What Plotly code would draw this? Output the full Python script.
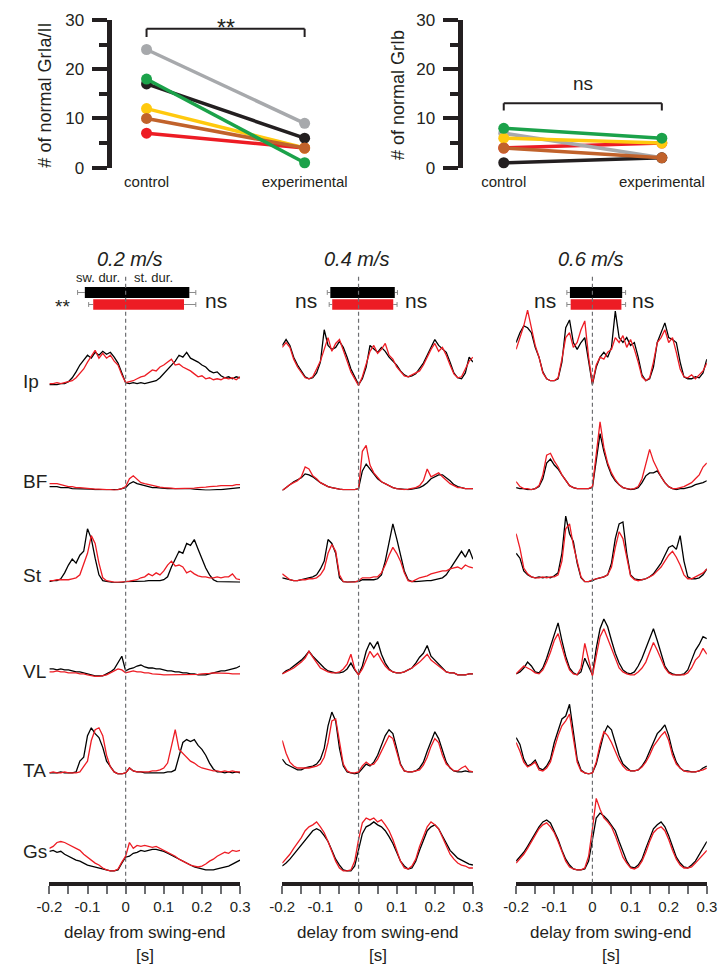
import plotly.graph_objects as go

# ---------------- DATA ----------------
GROUPS = ["control", "experimental"]
SUBJECT_COLORS = ["#a7a9ac", "#231f20", "#1ba24a", "#ffc90e", "#c1622b", "#ed1c24"]  # gray, black, green, yellow, brown, red
GRIA_CONTROL = [24, 17, 18, 12, 10, 7]
GRIA_EXPERIMENTAL = [9, 6, 1, 4, 4, 4]
GRIB_CONTROL = [7, 1, 8, 6, 4, 4]
GRIB_EXPERIMENTAL = [2, 2, 6, 5, 2, 5]
GRIA_SIG = "**"
GRIB_SIG = "ns"

SPEEDS = ["0.2 m/s", "0.4 m/s", "0.6 m/s"]
MUSCLES = ["Ip", "BF", "St", "VL", "TA", "Gs"]
TIME_S = [round(-0.2 + 0.01 * i, 2) for i in range(51)]
X_TICK_VALS = [-0.2, -0.15, -0.1, -0.05, 0, 0.05, 0.1, 0.15, 0.2, 0.25, 0.3]
X_TICK_TEXT = ["-0.2", "", "-0.1", "", "0", "", "0.1", "", "0.2", "", "0.3"]

# swing (negative) / stance (positive) duration [s] with SD
SW_DUR_CTRL = [-0.107, -0.074, -0.059]
SW_SD_CTRL = [0.019, 0.008, 0.008]
ST_DUR_CTRL = [0.167, 0.095, 0.078]
ST_SD_CTRL = [0.017, 0.007, 0.009]
SW_DUR_EXP = [-0.085, -0.069, -0.057]
SW_SD_EXP = [0.012, 0.008, 0.010]
ST_DUR_EXP = [0.153, 0.091, 0.076]
ST_SD_EXP = [0.031, 0.010, 0.011]
SW_SIG = ["**", "ns", "ns"]
ST_SIG = ["ns", "ns", "ns"]

# EMG envelopes (a.u.), t = -0.20 ... 0.30 s in 0.01 s steps
IP_02_CTRL = [2,2,2,3,3,5,9,15,22,27, 32,29,35,32,36,33,35,30,24,14, 4,3,4,3,4,3,4,5,6,9,
              13,18,22,26,32,30,35,29,27,25, 22,20,16,14,15,11,9,10,8,10, 9]
IP_02_EXP = [3,3,4,3,4,5,6,9,13,18, 25,31,37,29,34,29,32,26,22,12, 4,5,6,8,10,11,14,17,16,20,
             22,25,28,22,23,20,18,16,13,10, 11,8,9,7,8,7,9,8,9,7, 10]
BF_02_CTRL = [4,4,4,3,3,3,2,2,2,2, 1.5,1.5,1,1,1,0.5,0.5,0.5,1,2, 3,7,9,7,6,5,4,3,3,2.5,
              2.5,2,2,2,2,2,2.5,2,1.5,1, 0.5,0.5,0.5,1,1,1,1.5,2,2.5,3, 3]
BF_02_EXP = [7,7,7,6,5,4,4,3,3,2.5, 2,2,1.5,1.5,1,1,1,0.5,1,2, 4,12,15,11,8,7,6,5,4,3.5,
             3,3,2.5,2,2,2,2,2,2.5,3, 3,3.5,4,4,4.5,5,5,5,5,6, 6]
ST_02_CTRL = [1,2,2,4,10,18,24,20,28,32, 55,45,25,8,2,1,0.5,0,0,0, 1,1,1,1,1.5,1.5,2,2,2,2,
              3,6,16,24,32,30,40,38,44,34, 25,15,8,3,1,1,0.5,0.5,0.5,0.5, 0.5]
ST_02_EXP = [2,2,3,3,3,3,4,5,8,20, 30,48,40,20,5,2,1,0.5,0.5,0.5, 1,1.5,2,3,5,6,9,7,10,8,
             12,18,22,17,18,16,10,12,9,7, 6,6,5,5,6,5,6,6,9,4, 3]
VL_02_CTRL = [9,9,8,9,8,8,7,6,6,5, 4,3,2,2,2,4,6,9,16,22, 7,9,10,12,13,11,10,10,9,9,
              8,7,7,6,6,5,5,4,4,3, 3,3,4,5,6,7,7,8,9,10, 12]
VL_02_EXP = [6,6,7,6,6,5,5,5,4,4, 3,2,1.5,1.5,2,3,5,7,9,8, 5,6,7,6,6,5,5,4,4,3.5,
             3,3,3,3,3,3,3,3,3,3.5, 4,4,4.5,5,5,5,5,4.5,4,4, 4]
TA_02_CTRL = [2,2,2,3,2,2,2,3,14,18, 40,48,42,38,28,14,8,3,1,1, 2,7,4,3,3,2,2,2,2,2,
              2,3,3,5,18,33,36,34,36,30, 26,20,12,6,3,3,2,3,2,3, 2]
TA_02_EXP = [2,3,2,2,3,2,2,2,3,8, 14,35,46,48,40,20,8,3,1,1, 2,7,4,3,3,3,3,4,4,5,
             7,12,30,46,26,22,18,14,12,9, 7,6,5,4,4,3,4,3,4,3, 3]
GS_02_CTRL = [21,22,20,21,18,16,14,12,11,9, 7,6,5,4,3,1.5,1,1,2,9, 15,16,19,20,22,21,22,23,23,22,
              21,19,17,15,13,11,9,7,5,4, 3,2,2,2,3,4,5,6,8,10, 12]
GS_02_EXP = [24,26,30,31,30,28,26,24,22,18, 15,12,9,7,4,2,1,1,3,10, 16,30,24,27,26,27,26,25,26,24,
             22,20,18,16,13,11,9,7,6,5, 6,8,11,13,16,18,20,19,22,21, 22]

IP_04_CTRL = [42,48,42,30,22,16,10,8,9,14, 25,58,42,38,40,46,40,30,18,10, 2,8,20,42,38,35,40,36,30,26,
              22,16,12,10,11,13,18,24,32,40, 48,42,38,35,25,14,9,8,14,30, 25]
IP_04_EXP = [40,45,40,28,20,14,9,8,10,18, 26,38,50,36,44,48,36,26,15,8, 1,10,22,36,42,34,38,44,32,28,
             20,15,11,10,12,14,16,22,30,38, 44,36,40,32,22,13,9,10,18,26, 30]
BF_04_CTRL = [0,3,6,9,11,13,17,16,14,11, 8,6,4,3,2,1.5,1,1,1,1, 2,20,27,22,16,12,9,7,5,3,
              2,1.5,1,1,1.5,2,3,5,8,12, 14,16,16,13,10,6,4,3,2,2, 2]
BF_04_EXP = [0,3,6,8,10,14,24,22,15,12, 8,6,4,3,2,1.5,1,1,1,1, 2,40,46,26,18,13,9,7,5,3,
             2,1.5,1,1.5,2,3,5,10,22,14, 16,18,14,10,7,5,3,3,2,2, 2]
ST_04_CTRL = [5,4,3,2,2,3,4,5,6,8, 14,22,44,40,30,5,1,0.5,0.5,0.5, 1,3,3,3,3,4,8,22,40,60,
              45,30,12,3,1,1,1.5,2,2,2, 3,4,5,8,14,20,25,32,26,34, 24]
ST_04_EXP = [9,6,3,2,2,3,3,4,4,5, 8,14,30,39,32,8,1,0.5,0.5,0.5, 2,5,5,5,6,6,10,18,28,36,
             30,22,10,2,1,3,5,6,7,9, 10,11,12,12,14,15,16,14,18,16, 15]
VL_04_CTRL = [4,7,9,12,15,18,22,27,22,18, 13,10,7,6,5,5,6,9,15,8, 3,12,27,36,30,37,24,15,9,6,
              5,5,6,8,10,15,21,25,33,22, 18,13,9,6,5,5,3,3,3,4, 4]
VL_04_EXP = [4,6,8,10,13,16,20,27,21,15, 10,8,6,5,5,6,9,14,24,9, 3,9,18,27,21,25,18,12,8,6,
             5,5,6,8,10,13,16,20,24,18, 15,12,9,6,5,5,3,3,3,4, 4]
TA_04_CTRL = [16,11,9,7,5,5,7,8,9,11, 16,27,50,64,55,27,9,3,2,1, 2,7,11,9,13,20,31,40,46,42,
              27,11,4,3,3,4,7,13,24,35, 44,37,24,13,7,4,3,3,4,3, 3]
TA_04_EXP = [35,22,13,9,7,7,7,7,8,9, 11,18,33,55,57,35,11,4,2,2, 3,9,13,10,11,16,24,33,40,37,
             24,10,4,3,3,4,5,10,18,29, 37,33,20,11,7,4,4,7,9,4, 3]
GS_04_CTRL = [6,9,13,18,22,28,33,37,42,44, 42,37,31,22,13,7,2,1,1,6, 22,39,46,48,51,48,46,42,36,29,
              20,11,6,3,4,11,22,33,42,46, 48,44,37,29,22,18,14,12,10,8, 7]
GS_04_EXP = [9,13,18,24,29,35,42,46,48,51, 46,40,31,20,11,4,1,1,2,11, 33,50,55,53,55,51,53,48,42,33,
             22,11,4,3,6,13,26,37,46,51, 48,44,35,26,18,13,9,7,6,4, 4]

IP_06_CTRL = [45,55,62,60,55,40,30,15,8,6, 6,8,25,60,68,45,38,45,50,25, 2,20,30,35,30,40,77,50,45,50,
              42,45,30,12,6,8,20,45,55,65, 50,48,45,25,10,8,8,10,9,14, 28]
IP_06_EXP = [38,50,62,78,60,42,30,14,8,6, 6,9,28,50,55,40,45,58,67,30, 3,22,30,28,35,38,50,45,52,40,
             48,38,25,10,6,9,25,45,50,58, 45,50,35,18,10,9,12,8,12,16, 24]
BF_06_CTRL = [3,2,2,1,1,2,4,12,28,32, 26,22,16,10,5,3,2,2,2,2, 3,30,58,40,26,16,10,6,3,2,
              1,1.5,3,8,15,18,18,20,14,8, 4,2,1,2,2,3,4,6,7,8, 10]
BF_06_EXP = [9,4,2,2,1,2,5,16,36,38, 30,24,16,10,5,3,2,2,2,2, 4,40,70,44,28,18,11,6,3,2,
             1.5,2,4,12,28,42,30,22,14,8, 4,2,2,3,4,6,8,12,16,24, 28]
ST_06_CTRL = [30,25,12,8,6,5,6,5,6,5, 7,10,30,68,50,42,20,5,1,1, 2,4,5,6,8,20,45,60,62,30,
              8,4,3,3,4,6,9,14,20,28, 36,38,34,48,22,6,4,4,5,8, 14]
ST_06_EXP = [50,35,15,9,6,5,5,6,5,6, 6,8,22,55,60,38,22,6,1,1, 3,4,5,6,8,16,36,52,45,24,
             7,3,2,3,4,6,8,12,16,22, 28,32,26,18,8,4,4,6,8,10, 14]
VL_06_CTRL = [4,6,10,16,12,6,5,10,20,32, 45,56,38,22,10,5,3,6,20,12, 3,30,50,60,52,38,25,15,8,5,
              4,6,12,20,30,42,50,38,24,12, 6,4,3,3,4,8,18,28,34,42, 40]
VL_06_EXP = [4,8,12,10,8,5,4,8,16,26, 38,45,32,18,8,4,3,10,35,18, 2,22,42,50,40,28,18,10,6,4,
             3,3,6,10,16,26,36,28,18,10, 5,3,3,3,3,5,10,18,22,30, 24]
TA_06_CTRL = [38,31,16,9,11,15,7,5,9,16, 33,46,57,60,72,44,16,5,2,1, 2,11,27,42,50,46,33,20,11,7,
              4,4,5,9,15,24,33,42,46,51, 40,24,13,7,4,4,3,3,4,7, 9]
TA_06_EXP = [33,24,13,8,10,13,5,4,7,13, 27,40,50,55,62,38,13,4,2,1, 2,13,31,44,40,33,24,15,9,5,
             4,4,5,8,13,20,29,35,40,44, 35,20,11,7,4,3,3,3,4,5, 7]
GS_06_CTRL = [11,15,20,26,33,40,46,51,53,50, 42,33,22,13,7,3,2,2,3,11, 33,55,60,57,53,48,42,31,20,11,
              5,4,7,13,24,35,44,48,51,46, 37,26,15,9,5,4,7,11,18,24, 31]
GS_06_EXP = [9,13,18,24,31,37,44,48,50,46, 40,31,20,11,5,3,2,2,4,16, 44,75,64,55,51,46,37,26,15,9,
             4,3,5,11,20,31,40,44,46,42, 33,22,13,7,4,4,5,9,13,18, 22]

CTRL_TRACES = [
    [IP_02_CTRL, BF_02_CTRL, ST_02_CTRL, VL_02_CTRL, TA_02_CTRL, GS_02_CTRL],
    [IP_04_CTRL, BF_04_CTRL, ST_04_CTRL, VL_04_CTRL, TA_04_CTRL, GS_04_CTRL],
    [IP_06_CTRL, BF_06_CTRL, ST_06_CTRL, VL_06_CTRL, TA_06_CTRL, GS_06_CTRL],
]
EXP_TRACES = [
    [IP_02_EXP, BF_02_EXP, ST_02_EXP, VL_02_EXP, TA_02_EXP, GS_02_EXP],
    [IP_04_EXP, BF_04_EXP, ST_04_EXP, VL_04_EXP, TA_04_EXP, GS_04_EXP],
    [IP_06_EXP, BF_06_EXP, ST_06_EXP, VL_06_EXP, TA_06_EXP, GS_06_EXP],
]

# ---------------- LAYOUT / STYLE ----------------
# the page body adds an 8 px margin, so the figure is drawn 8 px smaller / shifted
W, H = 719, 969
FONT = "Liberation Sans, Arial, Helvetica, sans-serif"
INK = "#231f20"
BLACK = "#000000"
RED = "#ed1c24"


def fx(px):
    return px / W


def fy(px):
    return 1 - px / H


def lin_range(dom, v0, p0, v1, p1):
    s = (v1 - v0) / (p1 - p0)
    return [v0 + (dom[0] - p0) * s, v0 + (dom[1] - p0) * s]


def note(x, y, text, size, xanchor="center", yanchor="middle", angle=0):
    return dict(xref="paper", yref="paper", x=fx(x), y=fy(y), text=text, showarrow=False,
                xanchor=xanchor, yanchor=yanchor, textangle=angle,
                font=dict(size=size, family=FONT, color=INK))


fig = go.Figure()
layout = dict(
    width=W, height=H, margin=dict(l=0, r=0, t=0, b=0, pad=0), autosize=False,
    paper_bgcolor="white", plot_bgcolor="rgba(0,0,0,0)",
    showlegend=False, font=dict(family=FONT, color=INK),
)
shapes, annotations = [], []

# ---- top paired panels ----
TOP_Y_PX = (153.7, 3.0)  # pixel of value 0, value 30
top_panels = [
    dict(dom=(93.5, 338), ctrl_px=129.7, exp_px=293, ctrl=GRIA_CONTROL, exp=GRIA_EXPERIMENTAL,
         title="# of normal GrIa/II", title_x=25, sig=GRIA_SIG, br_px=(12, 20.3), sig_px=11, sig_size=23),
    dict(dom=(456.2, 711), ctrl_px=498.7, exp_px=662, ctrl=GRIB_CONTROL, exp=GRIB_EXPERIMENTAL,
         title="# of normal GrIb", title_x=390, sig=GRIB_SIG, br_px=(88, 95.3), sig_px=68, sig_size=19),
]
DRAW_ORDER = [5, 0, 3, 1, 4, 2]
for k, p in enumerate(top_panels, start=1):
    xa, ya = ("xaxis", "yaxis") if k == 1 else (f"xaxis{k}", f"yaxis{k}")
    layout[xa] = dict(
        domain=[fx(p["dom"][0]), fx(p["dom"][1])],
        range=lin_range(p["dom"], 0, p["ctrl_px"], 1, p["exp_px"]),
        anchor=f"y{k}", showline=False, showgrid=False, zeroline=False, ticks="", ticklen=0,
        tickvals=[0, 1], ticktext=GROUPS, tickfont=dict(size=15, family=FONT, color=INK),
        ticklabelstandoff=3,
    )
    layout[ya] = dict(
        domain=[fy(TOP_Y_PX[0]), fy(TOP_Y_PX[1])], range=[0, 30], anchor=f"x{k}",
        showline=True, linewidth=5, linecolor=INK, showgrid=False, zeroline=False,
        ticks="outside", ticklen=15, tickwidth=4, tickcolor=INK, ticklabeloverflow="allow",
        tickvals=[0, 10, 20, 30], tickfont=dict(size=17, family=FONT, color=INK), ticklabelstandoff=4,
        minor=dict(tickvals=[5, 15, 25], ticks="outside", ticklen=8, tickwidth=4, tickcolor=INK),
    )
    for i in DRAW_ORDER:
        fig.add_trace(go.Scatter(
            x=[0, 1], y=[p["ctrl"][i], p["exp"][i]], mode="lines+markers",
            line=dict(color=SUBJECT_COLORS[i], width=3.5),
            marker=dict(color=SUBJECT_COLORS[i], size=11),
            xaxis=f"x{k}", yaxis=f"y{k}", hoverinfo="skip", cliponaxis=False,
        ))
    b_top, b_end = p["br_px"]
    for (xa0, ya0, xa1, ya1) in [(0, b_end, 0, b_top), (0, b_top, 1, b_top), (1, b_top, 1, b_end)]:
        shapes.append(dict(type="line", xref=f"x{k}", yref="paper", x0=xa0, x1=xa1, y0=fy(ya0), y1=fy(ya1),
                           line=dict(color=INK, width=2)))
    annotations.append(dict(xref=f"x{k}", yref="paper", x=0.5, y=fy(p["sig_px"]), text=p["sig"],
                            showarrow=False, xanchor="center", yanchor="middle",
                            font=dict(size=p["sig_size"], family=FONT, color=INK)))
    annotations.append(note(p["title_x"], 80, p["title"], 18, angle=-90))

# ---- bottom EMG panels ----
COL_X0_PX = [29.3, 269.9, 511.5]
COL_SPAN_PX = 197.0
ROW_BASE_PX = [377, 483, 577, 674, 773, 872]
ROW_LABEL_PX = [372, 474, 570, 668, 769, 851]
BAND_PX = 90
XAXIS_POS_PX = 884
DASH_TOP_PX = 264
BAR_BLACK_PX = (275.5, 286.5)
BAR_RED_PX = (288.0, 298.5)
TITLE_X_PX = [113, 347, 588.7]

for c in range(3):
    xi = 3 + c
    x0 = COL_X0_PX[c]
    layout[f"xaxis{xi}"] = dict(
        domain=[fx(x0), fx(x0 + COL_SPAN_PX)], range=[-0.2, 0.3],
        anchor="free", position=fy(XAXIS_POS_PX),
        showline=True, linewidth=4, linecolor=INK, showgrid=False, zeroline=False,
        ticks="outside", ticklen=8, tickwidth=1.5, tickcolor="#6d6e71",
        tickvals=X_TICK_VALS, ticktext=X_TICK_TEXT, ticklabeloverflow="allow",
        tickfont=dict(size=15, family=FONT, color=INK),
    )
    for r in range(6):
        yi = 3 + c * 6 + r
        base = ROW_BASE_PX[r]
        layout[f"yaxis{yi}"] = dict(domain=[fy(base), fy(base - BAND_PX)], range=[0, BAND_PX],
                                    anchor=f"x{xi}", visible=False)
        fig.add_trace(go.Scatter(x=TIME_S, y=CTRL_TRACES[c][r], mode="lines",
                                 line=dict(color=BLACK, width=1.3),
                                 xaxis=f"x{xi}", yaxis=f"y{yi}", hoverinfo="skip", cliponaxis=False))
        fig.add_trace(go.Scatter(x=TIME_S, y=EXP_TRACES[c][r], mode="lines",
                                 line=dict(color=RED, width=1.3),
                                 xaxis=f"x{xi}", yaxis=f"y{yi}", hoverinfo="skip", cliponaxis=False))

    xr = f"x{xi}"
    for (sw, swsd, st, stsd, (ya, yb), col) in [
        (SW_DUR_CTRL[c], SW_SD_CTRL[c], ST_DUR_CTRL[c], ST_SD_CTRL[c], BAR_BLACK_PX, BLACK),
        (SW_DUR_EXP[c], SW_SD_EXP[c], ST_DUR_EXP[c], ST_SD_EXP[c], BAR_RED_PX, RED),
    ]:
        ym = (ya + yb) / 2
        for xa_, xb_ in [(sw - swsd, sw), (st, st + stsd)]:
            shapes.append(dict(type="line", xref=xr, yref="paper", x0=xa_, x1=xb_, y0=fy(ym), y1=fy(ym),
                               line=dict(color="#8a8a8a", width=1)))
        for xe in [sw - swsd, st + stsd]:
            shapes.append(dict(type="line", xref=xr, yref="paper", x0=xe, x1=xe, y0=fy(ym - 2.5), y1=fy(ym + 2.5),
                               line=dict(color="#8a8a8a", width=1)))
        shapes.append(dict(type="rect", xref=xr, yref="paper", x0=sw, x1=st, y0=fy(yb), y1=fy(ya),
                           fillcolor=col, line=dict(width=0)))
    shapes.append(dict(type="line", xref=xr, yref="paper", x0=0, x1=0, y0=fy(XAXIS_POS_PX - 1), y1=fy(DASH_TOP_PX),
                       line=dict(color="#6d6e71", width=1.2, dash="4px,3px")))
    xc = x0 + COL_SPAN_PX / 2
    annotations.append(note(TITLE_X_PX[c], 247, f"<i>{SPEEDS[c]}</i>", 20))
    annotations.append(note(xc, 934, "delay from swing-end", 17))
    annotations.append(note(xc, 957, "[s]", 17))

SIG_LEFT_PX = [43, 294.5, 541]
SIG_RIGHT_PX = [201, 408, 643]
for c in range(3):
    if SW_SIG[c] == "**":
        annotations.append(note(SIG_LEFT_PX[c], 295, SW_SIG[c], 19))
    else:
        annotations.append(note(SIG_LEFT_PX[c], 289, SW_SIG[c], 21))
    annotations.append(note(SIG_RIGHT_PX[c], 289, ST_SIG[c], 21))

annotations.append(note(104, 266, "sw. dur.", 13, xanchor="right"))
annotations.append(note(115, 266, "st. dur.", 13, xanchor="left"))

for r, m in enumerate(MUSCLES):
    annotations.append(note(0, ROW_LABEL_PX[r], m, 19, xanchor="left"))

layout["shapes"] = shapes
layout["annotations"] = annotations
fig.update_layout(**layout)
fig.write_html("out.html")
